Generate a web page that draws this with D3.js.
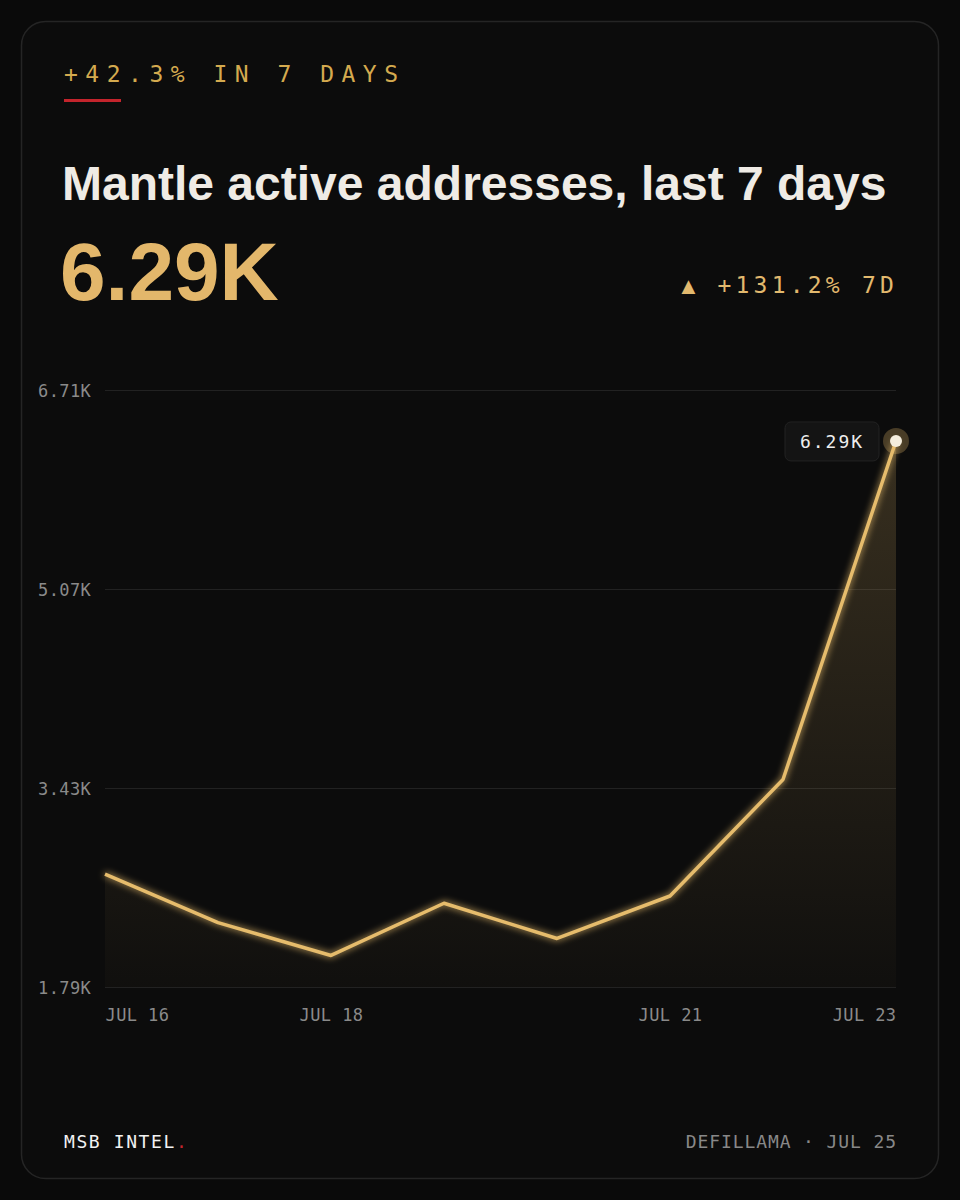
<!DOCTYPE html>
<html>
<head>
<meta charset="utf-8">
<script src="https://cdn.jsdelivr.net/npm/d3@7/dist/d3.min.js"></script>
<style>
  html, body { margin: 0; padding: 0; background: #0a0a0a; }
  svg { display: block; }
</style>
</head>
<body>
<div id="chart"></div>
<script>
// data
var days = ["2025-07-16", "2025-07-17", "2025-07-18", "2025-07-19", "2025-07-20", "2025-07-21", "2025-07-22", "2025-07-23"];
var values = [2720, 2320, 2050, 2480, 2190, 2540, 3500, 6290];
var yTicks = [1790, 3430, 5070, 6710];
var xTickDays = ["2025-07-16", "2025-07-18", "2025-07-21", "2025-07-23"];
var xTickLabels = ["JUL 16", "JUL 18", "JUL 21", "JUL 23"];

var parseDate = d3.timeParse("%Y-%m-%d");
var fmtK = function(v) { return (v / 1000).toFixed(2) + "K"; };

var W = 960, H = 1200;
var gold = "#e6bc6c";
var mono = "'DejaVu Sans Mono', 'Liberation Mono', monospace";
var sans = "'Liberation Sans', Arial, sans-serif";

var data = days.map(function(d, i) { return {date: parseDate(d), value: values[i]}; });

var svg = d3.select("#chart").append("svg")
    .attr("width", W)
    .attr("height", H);

var defs = svg.append("defs");

var grad = defs.append("linearGradient")
    .attr("id", "areaGrad")
    .attr("x1", 0).attr("y1", 0).attr("x2", 0).attr("y2", 1);
grad.append("stop").attr("offset", "0%").attr("stop-color", gold).attr("stop-opacity", 0.2);
grad.append("stop").attr("offset", "100%").attr("stop-color", gold).attr("stop-opacity", 0.02);

var glow = defs.append("filter")
    .attr("id", "glow")
    .attr("x", "-10%").attr("y", "-10%").attr("width", "120%").attr("height", "120%");
glow.append("feGaussianBlur").attr("stdDeviation", 3.5).attr("result", "blur");
var merge = glow.append("feMerge");
merge.append("feMergeNode").attr("in", "blur");
merge.append("feMergeNode").attr("in", "SourceGraphic");

// card
svg.append("rect")
    .attr("x", 21.5).attr("y", 21.5)
    .attr("width", 917).attr("height", 1157)
    .attr("rx", 24)
    .attr("fill", "#0c0c0c")
    .attr("stroke", "#252525")
    .attr("stroke-width", 1.5);

// header
svg.append("text")
    .attr("x", 64).attr("y", 82)
    .attr("font-family", mono)
    .attr("font-size", 23)
    .attr("letter-spacing", "7.5px")
    .attr("fill", "#d4aa4f")
    .text("+42.3% IN 7 DAYS");

svg.append("rect")
    .attr("x", 64).attr("y", 99)
    .attr("width", 57).attr("height", 3)
    .attr("fill", "#c4242c");

svg.append("text")
    .attr("x", 62).attr("y", 200)
    .attr("font-family", sans)
    .attr("font-weight", "bold")
    .attr("font-size", 48)
    .attr("fill", "#efebe5")
    .text("Mantle active addresses, last 7 days");

svg.append("text")
    .attr("x", 60).attr("y", 300)
    .attr("font-family", sans)
    .attr("font-weight", "bold")
    .attr("font-size", 82)
    .attr("fill", "#e3b76b")
    .text(fmtK(values[values.length - 1]));

svg.append("text")
    .attr("x", 898).attr("y", 293)
    .attr("text-anchor", "end")
    .attr("font-family", mono)
    .attr("font-size", 23)
    .attr("letter-spacing", "4.2px")
    .attr("fill", "#e2b96e")
    .text("\u25B2 +131.2% 7D");

// scales
var x = d3.scaleTime()
    .domain(d3.extent(data, function(d) { return d.date; }))
    .range([105, 896]);

var y = d3.scaleLinear()
    .domain([yTicks[0], yTicks[yTicks.length - 1]])
    .range([987, 390]);

// grid + y labels
var yAxis = svg.append("g")
    .call(d3.axisLeft(y).tickValues(yTicks).tickSize(0).tickFormat(fmtK));
yAxis.select(".domain").remove();
yAxis.selectAll("text")
    .attr("x", 38)
    .attr("dy", "0.36em")
    .attr("text-anchor", "start")
    .attr("font-family", mono)
    .attr("font-size", 17)
    .attr("letter-spacing", "0.4px")
    .attr("fill", "#8a8a8a");
yAxis.selectAll(".tick").append("line")
    .attr("x1", 105).attr("x2", 896)
    .attr("stroke", "#222222")
    .attr("stroke-width", 1.2);

// x labels
var xAxis = svg.append("g")
    .attr("transform", "translate(0,987)")
    .call(d3.axisBottom(x)
        .tickValues(xTickDays.map(parseDate))
        .tickSize(0)
        .tickFormat(function(d, i) { return xTickLabels[i]; }));
xAxis.select(".domain").remove();
xAxis.selectAll("text")
    .attr("y", 34)
    .attr("dy", 0)
    .attr("font-family", mono)
    .attr("font-size", 17)
    .attr("letter-spacing", "0.4px")
    .attr("fill", "#8a8a8a")
    .attr("text-anchor", function(d, i) {
        return i === 0 ? "start" : (i === xTickDays.length - 1 ? "end" : "middle");
    });

// area + line
var area = d3.area()
    .x(function(d) { return x(d.date); })
    .y0(y(yTicks[0]))
    .y1(function(d) { return y(d.value); });

var line = d3.line()
    .x(function(d) { return x(d.date); })
    .y(function(d) { return y(d.value); });

svg.append("path")
    .datum(data)
    .attr("d", area)
    .attr("fill", "url(#areaGrad)");

svg.append("path")
    .datum(data)
    .attr("d", line)
    .attr("fill", "none")
    .attr("stroke", gold)
    .attr("stroke-width", 3.5)
    .attr("stroke-linejoin", "round")
    .attr("filter", "url(#glow)");

// last point marker + label
var last = data[data.length - 1];
var lx = x(last.date), ly = y(last.value);

svg.append("circle")
    .attr("cx", lx).attr("cy", ly).attr("r", 13)
    .attr("fill", gold).attr("fill-opacity", 0.28);
svg.append("circle")
    .attr("cx", lx).attr("cy", ly).attr("r", 6)
    .attr("fill", "#f4eddd");

svg.append("rect")
    .attr("x", lx - 111).attr("y", ly - 19)
    .attr("width", 94).attr("height", 39)
    .attr("rx", 6)
    .attr("fill", "#141414")
    .attr("stroke", "#222222");
svg.append("text")
    .attr("x", lx - 64).attr("y", ly + 7)
    .attr("text-anchor", "middle")
    .attr("font-family", mono)
    .attr("font-size", 18)
    .attr("letter-spacing", "2px")
    .attr("fill", "#eeeeee")
    .text(fmtK(last.value));

// footer
var brand = svg.append("text")
    .attr("x", 64).attr("y", 1148)
    .attr("font-family", mono)
    .attr("font-size", 18)
    .attr("letter-spacing", "1.6px")
    .attr("fill", "#f2f2f2");
brand.append("tspan").text("MSB INTEL");
brand.append("tspan").attr("fill", "#c4242c").text(".");

svg.append("text")
    .attr("x", 897).attr("y", 1148)
    .attr("text-anchor", "end")
    .attr("font-family", mono)
    .attr("font-size", 18)
    .attr("letter-spacing", "0.9px")
    .attr("fill", "#888888")
    .text("DEFILLAMA \u00B7 JUL 25");
</script>
</body>
</html>
